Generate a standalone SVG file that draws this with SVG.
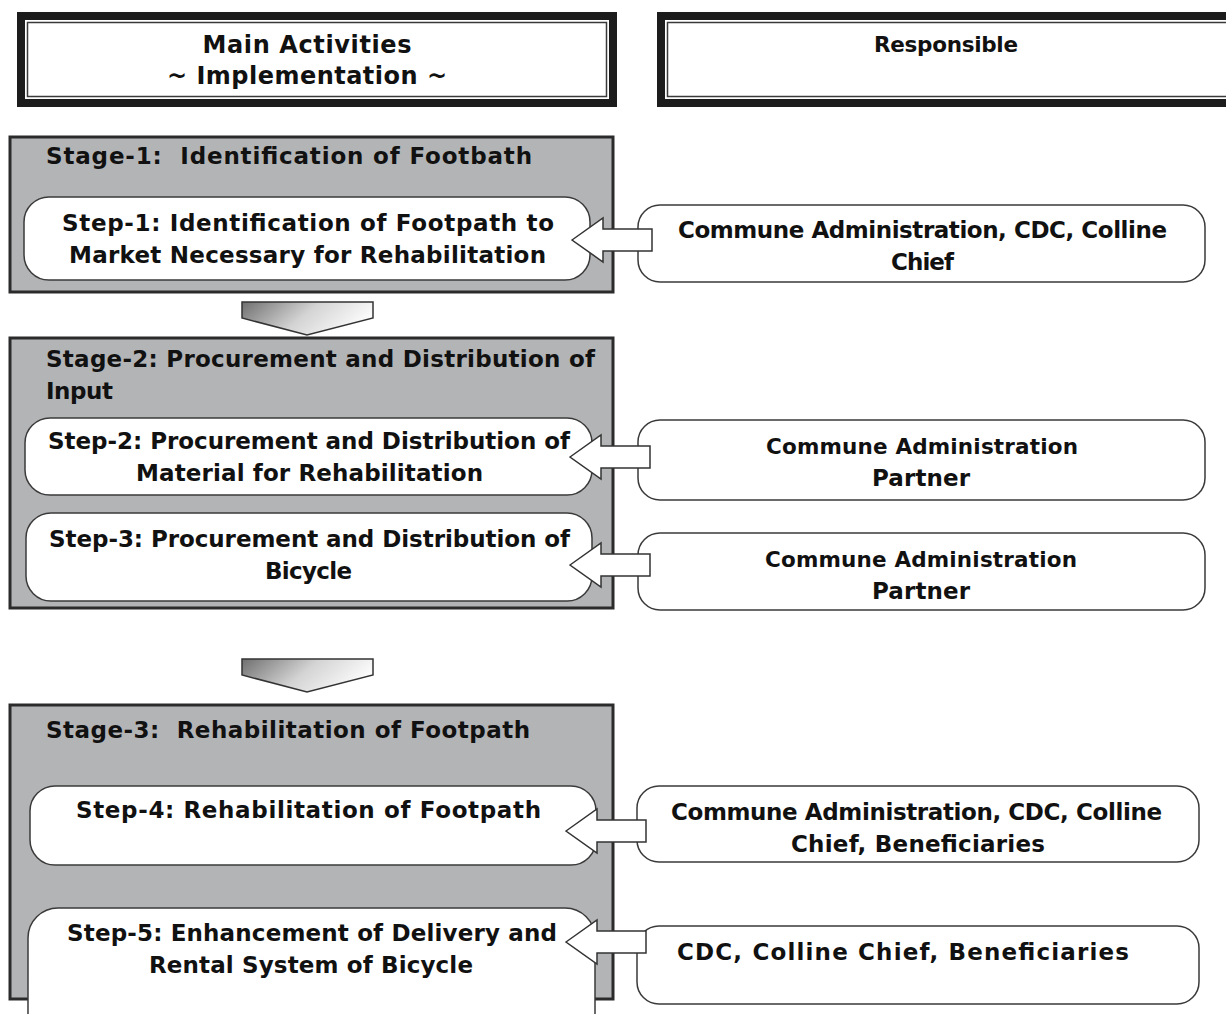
<svg xmlns="http://www.w3.org/2000/svg" width="1226" height="1014" viewBox="0 0 1226 1014">
  <style>
    .t { font-family: "DejaVu Sans", "Liberation Sans", sans-serif; font-weight: bold; font-size: 23px; fill: #111; }
    .c { text-anchor: middle; }
    .hdr { font-size: 24px; }
    .sm { font-size: 21.5px; }
    .stage { fill: #b3b4b6; stroke: #2b2b2b; stroke-width: 3; }
    .box { fill: #fff; stroke: #3a3a3a; stroke-width: 1.5; }
    .frame { fill: #fff; stroke: #1c1c1c; stroke-width: 8; }
    .inner { fill: none; stroke: #3a3a3a; stroke-width: 1.5; }
    .arrow { fill: #fff; stroke: #333; stroke-width: 1.5; stroke-linejoin: miter; }
    .chev { fill: url(#chevGrad); stroke: #333; stroke-width: 1.5; }
  </style>
  <defs>
    <linearGradient id="chevGrad" x1="0" y1="0" x2="1" y2="0.3">
      <stop offset="0" stop-color="#6f6f6f"/>
      <stop offset="0.55" stop-color="#d4d4d4"/>
      <stop offset="1" stop-color="#fafafa"/>
    </linearGradient>
    <!-- left-pointing hollow block arrow, tip at origin -->
    <path id="leftArrow" d="M0,0 L31,-22 L31,-11 L80,-11 L80,11 L31,11 L31,22 Z"/>
  </defs>

  <rect width="1226" height="1014" fill="#fff"/>

  <!-- column headers -->
  <g id="header-activities">
    <rect class="frame" x="21" y="16" width="592" height="87"/>
    <rect class="inner" x="27.5" y="22.5" width="579" height="74"/>
    <text class="t c hdr" x="307" y="53" textLength="209">Main Activities</text>
    <text class="t c hdr" x="307" y="84" textLength="280">~ Implementation ~</text>
  </g>
  <g id="header-responsible">
    <rect class="frame" x="661" y="16" width="580" height="87"/>
    <rect class="inner" x="667.5" y="22.5" width="570" height="74"/>
    <text class="t c sm" x="946" y="52" textLength="144">Responsible</text>
  </g>

  <!-- stage 1 -->
  <g id="stage-1">
    <rect class="stage" x="10" y="137" width="603" height="155"/>
    <text class="t" x="46" y="164" textLength="486" xml:space="preserve">Stage-1:  Identification of Footbath</text>
  </g>
  <g id="step-1">
    <rect class="box" x="24" y="197" width="566" height="83" rx="25"/>
    <text class="t c" x="308" y="231" textLength="492">Step-1: Identification of Footpath to</text>
    <text class="t c" x="307.5" y="263" textLength="477">Market Necessary for Rehabilitation</text>
  </g>
  <g id="resp-1">
    <rect class="box" x="638" y="205" width="567" height="77" rx="22"/>
    <text class="t c" x="922.5" y="238" textLength="489">Commune Administration, CDC, Colline</text>
    <text class="t c" x="922.5" y="270" textLength="63">Chief</text>
  </g>

  <!-- stage 2 -->
  <g id="stage-2">
    <rect class="stage" x="10" y="338" width="603" height="270"/>
    <text class="t" x="46" y="367" textLength="549">Stage-2: Procurement and Distribution of</text>
    <text class="t" x="46" y="399" textLength="67">Input</text>
  </g>
  <g id="step-2">
    <rect class="box" x="25" y="418" width="567" height="77" rx="25"/>
    <text class="t c" x="309" y="449" textLength="522">Step-2: Procurement and Distribution of</text>
    <text class="t c" x="309.5" y="481" textLength="347">Material for Rehabilitation</text>
  </g>
  <g id="step-3">
    <rect class="box" x="26" y="513" width="566" height="88" rx="25"/>
    <text class="t c" x="309.5" y="547" textLength="521">Step-3: Procurement and Distribution of</text>
    <text class="t c" x="308.5" y="579" textLength="87">Bicycle</text>
  </g>
  <g id="resp-2">
    <rect class="box" x="638" y="420" width="567" height="80" rx="22"/>
    <text class="t c sm" x="922" y="454" textLength="312">Commune Administration</text>
    <text class="t c" x="921" y="486" textLength="98">Partner</text>
  </g>
  <g id="resp-3">
    <rect class="box" x="638" y="533" width="567" height="77" rx="22"/>
    <text class="t c sm" x="921" y="567" textLength="312">Commune Administration</text>
    <text class="t c" x="921" y="599" textLength="98">Partner</text>
  </g>

  <!-- stage 3 -->
  <g id="stage-3">
    <rect class="stage" x="10" y="705" width="603" height="294"/>
    <text class="t" x="46" y="738" textLength="484" xml:space="preserve">Stage-3:  Rehabilitation of Footpath</text>
  </g>
  <g id="step-4">
    <rect class="box" x="30" y="786" width="566" height="79" rx="25"/>
    <text class="t c" x="308.5" y="818" textLength="465">Step-4: Rehabilitation of Footpath</text>
  </g>
  <g id="step-5">
    <rect class="box" x="28" y="908" width="567" height="140" rx="30"/>
    <text class="t c" x="312" y="941" textLength="490">Step-5: Enhancement of Delivery and</text>
    <text class="t c" x="311" y="973" textLength="324">Rental System of Bicycle</text>
  </g>
  <g id="resp-4">
    <rect class="box" x="637" y="786" width="562" height="76" rx="22"/>
    <text class="t c" x="916.5" y="820" textLength="491">Commune Administration, CDC, Colline</text>
    <text class="t c" x="918" y="852" textLength="254">Chief, Beneficiaries</text>
  </g>
  <g id="resp-5">
    <rect class="box" x="637" y="926" width="562" height="78" rx="22"/>
    <text class="t c" x="903" y="960" textLength="452">CDC, Colline Chief, Beneficiaries</text>
  </g>

  <!-- connectors: stage-to-stage chevrons and responsibility arrows -->
  <g id="connectors">
    <path class="chev" d="M242,302 L373,302 L373,318 L307,335 L242,318 Z"/>
    <path class="chev" d="M242,659 L373,659 L373,675 L307,692 L242,675 Z"/>
    <use href="#leftArrow" class="arrow" transform="translate(572,240)"/>
    <use href="#leftArrow" class="arrow" transform="translate(570,457)"/>
    <use href="#leftArrow" class="arrow" transform="translate(570,565)"/>
    <use href="#leftArrow" class="arrow" transform="translate(566,831)"/>
    <use href="#leftArrow" class="arrow" transform="translate(566,942)"/>
  </g>
</svg>
